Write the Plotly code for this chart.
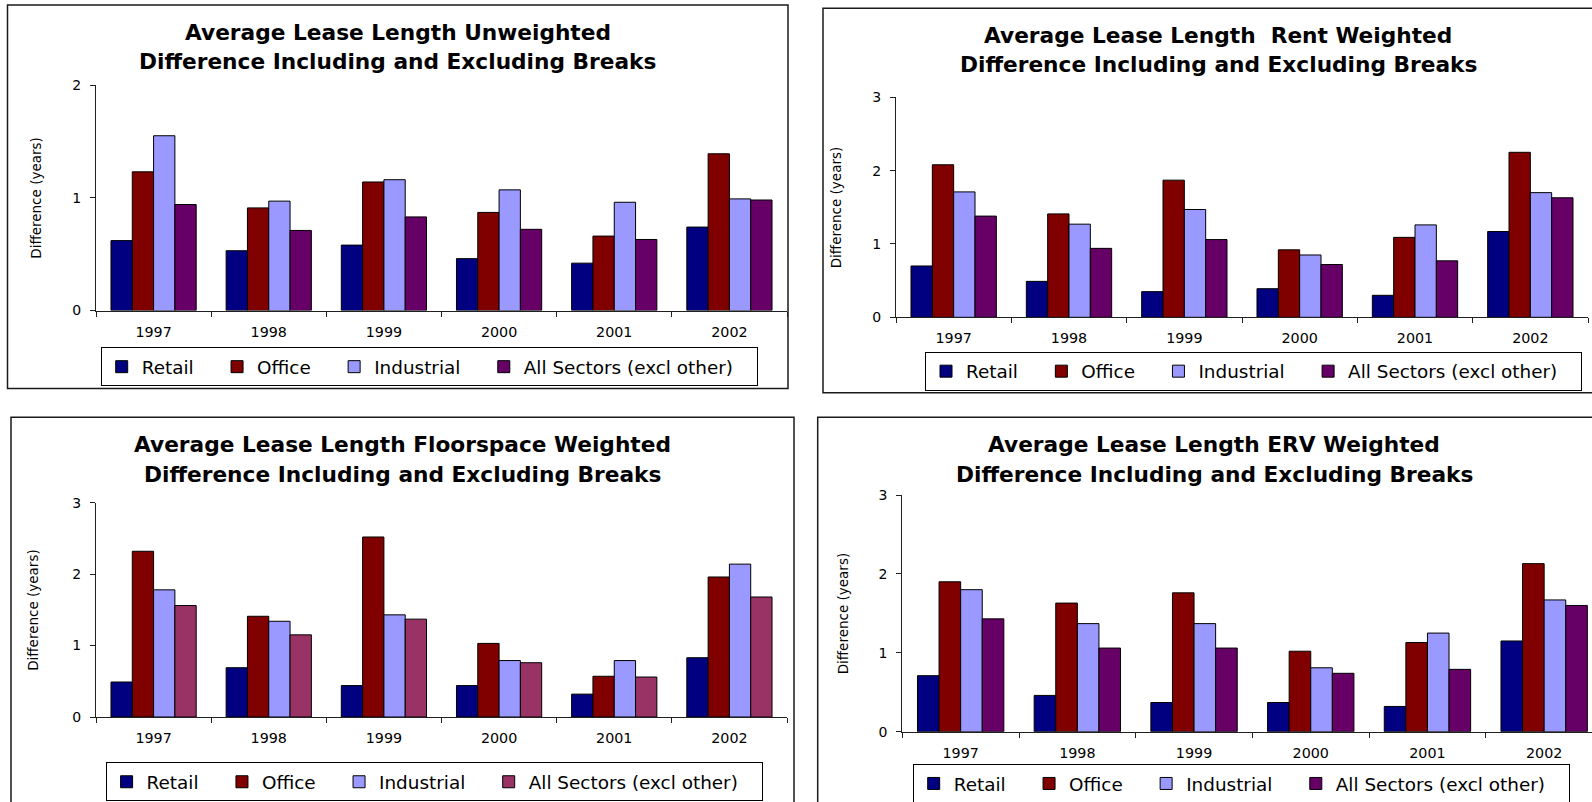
import plotly.graph_objects as go

W, H = 1592, 802

# ---- data -------------------------------------------------------------
years = ["1997", "1998", "1999", "2000", "2001", "2002"]
sectors = ["Retail", "Office", "Industrial", "All Sectors (excl other)"]

unweighted_retail = [0.62, 0.53, 0.58, 0.46, 0.42, 0.74]
unweighted_office = [1.23, 0.91, 1.14, 0.87, 0.66, 1.39]
unweighted_industrial = [1.55, 0.97, 1.16, 1.07, 0.96, 0.99]
unweighted_all = [0.94, 0.71, 0.83, 0.72, 0.63, 0.98]

rent_retail = [0.70, 0.49, 0.35, 0.39, 0.30, 1.17]
rent_office = [2.08, 1.41, 1.87, 0.92, 1.09, 2.25]
rent_industrial = [1.71, 1.27, 1.47, 0.85, 1.26, 1.70]
rent_all = [1.38, 0.94, 1.06, 0.72, 0.77, 1.63]

floor_retail = [0.49, 0.69, 0.44, 0.44, 0.32, 0.83]
floor_office = [2.32, 1.41, 2.52, 1.03, 0.57, 1.96]
floor_industrial = [1.78, 1.34, 1.43, 0.79, 0.79, 2.14]
floor_all = [1.56, 1.15, 1.37, 0.76, 0.56, 1.68]

erv_retail = [0.71, 0.46, 0.37, 0.37, 0.32, 1.15]
erv_office = [1.90, 1.63, 1.76, 1.02, 1.13, 2.13]
erv_industrial = [1.80, 1.37, 1.37, 0.81, 1.25, 1.67]
erv_all = [1.43, 1.06, 1.06, 0.74, 0.79, 1.60]

y_title = "Difference (years)"

FONT = "DejaVu Sans"
C_RETAIL = "#000080"
C_OFFICE = "#800000"
C_INDUSTRIAL = "#9999FF"
C_ALL = "#660066"
C_ALL_ALT = "#993366"

# ---- panel layout (pixel geometry) -------------------------------------
# leg = (left edge, vertical centre) of each legend box
panels = [
    dict(title=["Average Lease Length Unweighted",
                "Difference Including and Excluding Breaks"],
         series=[unweighted_retail, unweighted_office, unweighted_industrial, unweighted_all],
         colors=[C_RETAIL, C_OFFICE, C_INDUSTRIAL, C_ALL],
         x0=96, x1=787, cat_w=None, y0=310.5, ytop=85, ymax=2,
         frame=(7.5, 5, 788, 388.5), tcx=397.5, tly=(32.3, 61.7),
         leg=(100.7, 366.7), ytx=36),
    dict(title=["Average Lease Length\u00a0 Rent Weighted",
                "Difference Including and Excluding Breaks"],
         series=[rent_retail, rent_office, rent_industrial, rent_all],
         colors=[C_RETAIL, C_OFFICE, C_INDUSTRIAL, C_ALL],
         x0=896, x1=1588, cat_w=None, y0=317.3, ytop=97.3, ymax=3,
         frame=(823, 8.3, 1650, 392.7), tcx=1218, tly=(36, 64.3),
         leg=(925, 371.2), ytx=836),
    dict(title=["Average Lease Length Floorspace Weighted",
                "Difference Including and Excluding Breaks"],
         series=[floor_retail, floor_office, floor_industrial, floor_all],
         colors=[C_RETAIL, C_OFFICE, C_INDUSTRIAL, C_ALL_ALT],
         x0=96, x1=787, cat_w=None, y0=717, ytop=502.7, ymax=3,
         frame=(11, 417.3, 794, 860), tcx=402.5, tly=(444.3, 474),
         leg=(105.6, 781.8), ytx=33),
    dict(title=["Average Lease Length ERV Weighted",
                "Difference Including and Excluding Breaks"],
         series=[erv_retail, erv_office, erv_industrial, erv_all],
         colors=[C_RETAIL, C_OFFICE, C_INDUSTRIAL, C_ALL],
         x0=902.3, x1=W, cat_w=116.7, y0=731.7, ytop=495, ymax=3,
         frame=(817.7, 417.3, 1650, 860), tcx=1214, tly=(444.3, 474),
         leg=(912.7, 783.5), ytx=843),
]


def px(x):
    return x / W


def py(y):
    return 1 - y / H


fig = go.Figure()
layout = dict(
    width=W, height=H, autosize=False,
    margin=dict(l=0, r=0, t=0, b=0, autoexpand=False),
    paper_bgcolor="white", plot_bgcolor="white",
    barmode="group", bargap=0.26, bargroupgap=0,
    font=dict(family=FONT, color="black"),
    showlegend=True,
)
shapes, annotations = [], []

for i, p in enumerate(panels):
    n = "" if i == 0 else str(i + 1)
    xa, ya = "x" + n, "y" + n
    leg = "legend" + n

    for name, vals, col in zip(sectors, p["series"], p["colors"]):
        fig.add_trace(go.Bar(
            x=years, y=vals, name=name + "\u2003",
            marker=dict(color=col, line=dict(color="black", width=1)),
            xaxis=xa, yaxis=ya, legend=leg, hoverinfo="skip",
        ))

    if p["cat_w"]:
        xrange = [-0.5, -0.5 + (p["x1"] - p["x0"]) / p["cat_w"]]
    else:
        xrange = [-0.5, len(years) - 0.5]

    layout["xaxis" + n] = dict(
        domain=[px(p["x0"]), px(p["x1"])], anchor=ya, type="category",
        range=xrange, showline=True, linecolor="#202020", linewidth=1,
        ticks="outside", tickson="boundaries", ticklen=5, tickcolor="#202020",
        tickfont=dict(family=FONT, size=14.3, color="black"),
        ticklabelstandoff=8, showgrid=False, zeroline=False, fixedrange=True,
        automargin=False,
    )
    layout["yaxis" + n] = dict(
        domain=[py(p["y0"]), py(p["ytop"])], anchor=xa,
        range=[0, p["ymax"]], tickmode="array",
        tickvals=list(range(p["ymax"] + 1)),
        showline=True, linecolor="#202020", linewidth=1,
        ticks="outside", ticklen=5, tickcolor="#202020",
        tickfont=dict(family=FONT, size=14, color="black"),
        ticklabelstandoff=6, showgrid=False, zeroline=False, fixedrange=True,
        automargin=False,
    )
    layout[leg] = dict(
        orientation="h", x=px(p["leg"][0]), y=py(p["leg"][1]),
        xanchor="left", yanchor="middle", bgcolor="white",
        bordercolor="black", borderwidth=1,
        font=dict(family=FONT, size=18.4, color="black"),
    )

    fx0, fy0, fx1, fy1 = p["frame"]
    shapes.append(dict(type="rect", xref="paper", yref="paper",
                       x0=px(fx0), x1=px(fx1), y0=py(fy0), y1=py(fy1),
                       line=dict(color="#1a1a1a", width=1.5),
                       fillcolor="rgba(0,0,0,0)", layer="below"))

    for line, ty in zip(p["title"], p["tly"]):
        annotations.append(dict(
            text=line, xref="paper", yref="paper", x=px(p["tcx"]), y=py(ty),
            xanchor="center", yanchor="middle", showarrow=False,
            font=dict(family=FONT, size=21.7, color="black", weight="bold"),
        ))

    annotations.append(dict(
        text=y_title, xref="paper", yref="paper", x=px(p["ytx"]),
        y=py((p["y0"] + p["ytop"]) / 2), xanchor="center", yanchor="middle",
        textangle=-90, showarrow=False,
        font=dict(family=FONT, size=13.5, color="black"),
    ))

layout["shapes"] = shapes
layout["annotations"] = annotations
fig.update_layout(**layout)

fig.write_html("out.html")
